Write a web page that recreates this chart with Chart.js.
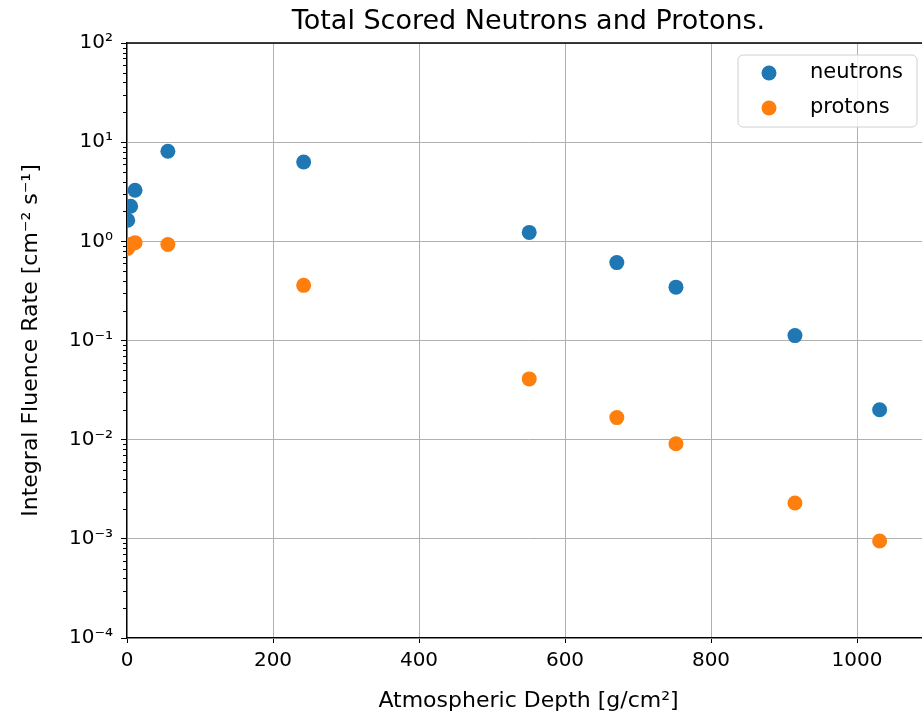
<!DOCTYPE html>
<html>
<head>
<meta charset="utf-8">
<script src="https://cdn.jsdelivr.net/npm/chart.js@4.4.0/dist/chart.umd.min.js"></script>
<style>
html,body{margin:0;padding:0;background:#fff;overflow:hidden;width:922px;height:714px;}
#wrap{position:absolute;left:0;top:0;width:1000px;height:714px;}
</style>
</head>
<body>
<div id="wrap"><canvas id="c" width="1000" height="714"></canvas></div>
<script>
const titleText = 'Total Scored Neutrons and Protons.';
const xTitle = 'Atmospheric Depth [g/cm²]';
const yTitle = 'Integral Fluence Rate [cm⁻² s⁻¹]';
const seriesNames = ['neutrons', 'protons'];
const depths   = [1, 5, 11, 56, 242, 551, 671, 752, 915, 1031];
const neutrons = [1.63, 2.26, 3.27, 8.1, 6.3, 1.23, 0.61, 0.345, 0.112, 0.020];
const protons  = [0.85, 0.93, 0.97, 0.93, 0.36, 0.041, 0.0167, 0.0091, 0.0023, 0.00095];
const xTicks = [0, 200, 400, 600, 800, 1000];
const yTicks = [1e-4, 1e-3, 1e-2, 1e-1, 1e0, 1e1, 1e2];
const colors = ['#1f77b4', '#ff7f0e'];

const FONT = "'DejaVu Sans', sans-serif";
const sup = {'-':'⁻','0':'⁰','1':'¹','2':'²','3':'³','4':'⁴','5':'⁵','6':'⁶','7':'⁷','8':'⁸','9':'⁹'};
function fmtPow(v){
  const e = Math.round(Math.log10(v));
  return '10' + String(e).split('').map(c=>sup[c]).join('');
}

const framePlugin = {
  id: 'frame',
  afterDraw(chart){
    const ctx = chart.ctx, a = chart.chartArea, y = chart.scales.y;
    ctx.save();
    ctx.strokeStyle = '#000'; ctx.lineWidth = 1;
    for (let d = -4; d < 2; d++){
      for (let k = 2; k <= 9; k++){
        const py = Math.round(y.getPixelForValue(k*Math.pow(10,d))) + 0.5;
        ctx.beginPath(); ctx.moveTo(a.left - 4, py); ctx.lineTo(a.left, py); ctx.stroke();
      }
    }
    ctx.lineWidth = 1.3;
    ctx.beginPath(); ctx.moveTo(a.left, a.top); ctx.lineTo(a.right, a.top); ctx.lineTo(a.right, a.bottom); ctx.stroke();
    ctx.fillStyle = '#000';
    ctx.font = '27px ' + FONT;
    ctx.textAlign = 'center'; ctx.textBaseline = 'alphabetic';
    ctx.fillText(titleText, (a.left + a.right)/2, 29);
    const lx = 738, ly = 55, lw = 179, lh = 72, r = 5;
    ctx.beginPath();
    ctx.moveTo(lx + r, ly); ctx.lineTo(lx + lw - r, ly); ctx.arcTo(lx + lw, ly, lx + lw, ly + r, r);
    ctx.lineTo(lx + lw, ly + lh - r); ctx.arcTo(lx + lw, ly + lh, lx + lw - r, ly + lh, r);
    ctx.lineTo(lx + r, ly + lh); ctx.arcTo(lx, ly + lh, lx, ly + lh - r, r);
    ctx.lineTo(lx, ly + r); ctx.arcTo(lx, ly, lx + r, ly, r); ctx.closePath();
    ctx.fillStyle = 'rgba(255,255,255,0.8)'; ctx.fill();
    ctx.strokeStyle = '#d0d0d0'; ctx.lineWidth = 1; ctx.stroke();
    ctx.font = '21px ' + FONT; ctx.textAlign = 'left'; ctx.textBaseline = 'middle';
    chart.data.datasets.forEach((ds, i) => {
      const cy = 73 + i*35;
      ctx.beginPath(); ctx.arc(769, cy, 7.5, 0, Math.PI*2);
      ctx.fillStyle = ds.backgroundColor; ctx.fill();
      ctx.fillStyle = '#000';
      ctx.fillText(ds.label, 810, cy);
    });
    ctx.restore();
  }
};

new Chart(document.getElementById('c'), {
  type: 'scatter',
  data: {
    datasets: [
      { label: seriesNames[0], data: depths.map((x,i)=>({x, y: neutrons[i]})), backgroundColor: colors[0], borderColor: colors[0], pointRadius: 7.5, pointHoverRadius: 7.5, borderWidth: 0 },
      { label: seriesNames[1], data: depths.map((x,i)=>({x, y: protons[i]})), backgroundColor: colors[1], borderColor: colors[1], pointRadius: 7.5, pointHoverRadius: 7.5, borderWidth: 0 }
    ]
  },
  options: {
    responsive: false,
    animation: false,
    layout: { padding: { left: 0, top: 43, right: 70, bottom: 0 } },
    plugins: { legend: { display: false }, title: { display: false }, tooltip: { enabled: false } },
    scales: {
      x: {
        type: 'linear', min: 0, max: 1100,
        afterBuildTicks(s){ s.ticks = xTicks.map(v=>({value:v})); },
        afterFit(s){ s.height = 76; },
        grid: { color: '#b0b0b0', lineWidth: 1, tickLength: 5, tickColor: '#000' },
        border: { color: '#000', width: 1.3 },
        ticks: { color: '#000', font: { family: FONT, size: 20 }, padding: 6, maxRotation: 0, callback: (v)=>String(v) },
        title: { display: true, text: xTitle, color: '#000', font: { family: FONT, size: 22 }, padding: { top: 5, bottom: 0 } }
      },
      y: {
        type: 'logarithmic', min: 1e-4, max: 1e2,
        afterBuildTicks(s){ s.ticks = yTicks.map(v=>({value:v})); },
        afterFit(s){ s.width = 127; },
        grid: { color: '#b0b0b0', lineWidth: 1, tickLength: 6, tickColor: '#000' },
        border: { color: '#000', width: 1.3 },
        ticks: { color: '#000', font: { family: FONT, size: 20 }, padding: 8, callback: (v)=>fmtPow(v) },
        title: { display: true, text: yTitle, color: '#000', font: { family: FONT, size: 22 }, padding: { top: 18, bottom: 4 } }
      }
    }
  },
  plugins: [framePlugin]
});
</script>
</body>
</html>
